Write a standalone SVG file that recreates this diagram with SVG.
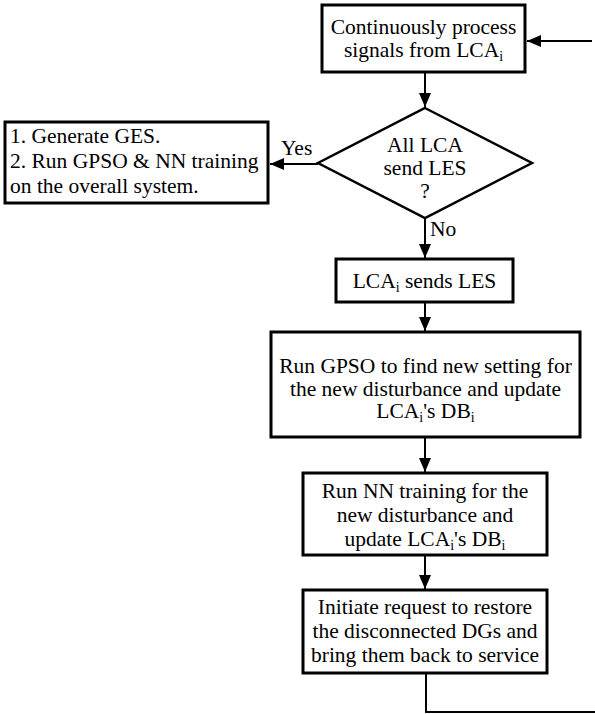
<svg xmlns="http://www.w3.org/2000/svg" width="595" height="714" viewBox="0 0 595 714">
<style>
.box{fill:#fff;stroke:#000;stroke-width:3}
text{font-family:'Liberation Serif','Times New Roman','DejaVu Serif',serif;font-size:21.5px;fill:#000}
.c{text-anchor:middle}
.ln{fill:none;stroke:#000;stroke-width:2}
.sub{font-size:14px}
</style>
<defs>
<marker id="ah" viewBox="0 0 14 12" refX="14" refY="6" markerWidth="14" markerHeight="12" markerUnits="userSpaceOnUse" orient="auto">
<path d="M0,0 L14,6 L0,12 Z" fill="#000"/>
</marker>
</defs>
<g id="connectors">
<line class="ln" x1="592" y1="41" x2="527" y2="41" marker-end="url(#ah)"/>
<line class="ln" x1="425" y1="72" x2="425" y2="107" marker-end="url(#ah)"/>
<line class="ln" x1="318" y1="164" x2="270" y2="164" marker-end="url(#ah)"/>
<line class="ln" x1="425" y1="218" x2="425" y2="258" marker-end="url(#ah)"/>
<line class="ln" x1="425" y1="302" x2="425" y2="331" marker-end="url(#ah)"/>
<line class="ln" x1="425" y1="437" x2="425" y2="472" marker-end="url(#ah)"/>
<line class="ln" x1="425" y1="555" x2="425" y2="589" marker-end="url(#ah)"/>
<polyline class="ln" points="426,673 426,712 595,712"/>
<text x="281" y="155">Yes</text>
<text x="430" y="236">No</text>
</g>
<g id="n1">
<rect class="box" x="322" y="5" width="203" height="67"/>
<text class="c" x="423.5" y="34">Continuously process</text>
<text class="c" x="423.5" y="57">signals from LCA<tspan class="sub" dy="4">i</tspan></text>
</g>
<g id="n2">
<polygon points="425,108 532,163 425,218 318,163" fill="#fff" stroke="#000" stroke-width="2.5"/>
<text class="c" x="425" y="152">All LCA</text>
<text class="c" x="425" y="175">send LES</text>
<text class="c" x="425" y="198">?</text>
</g>
<g id="n3">
<rect class="box" x="5" y="122" width="263" height="81"/>
<text x="10" y="143">1. Generate GES.</text>
<text x="10" y="168">2. Run GPSO &amp; NN training</text>
<text x="10" y="193">on the overall system.</text>
</g>
<g id="n4">
<rect class="box" x="336" y="259" width="177" height="43"/>
<text class="c" x="424.5" y="288">LCA<tspan class="sub" dy="4">i</tspan><tspan dy="-4"> sends LES</tspan></text>
</g>
<g id="n5">
<rect class="box" x="271" y="332" width="309" height="105"/>
<text class="c" x="425.5" y="373">Run GPSO to find new setting for</text>
<text class="c" x="425.5" y="396">the new disturbance and update</text>
<text class="c" x="425.5" y="418">LCA<tspan class="sub" dy="4">i</tspan><tspan dy="-4">'s DB</tspan><tspan class="sub" dy="4">i</tspan></text>
</g>
<g id="n6">
<rect class="box" x="303" y="473" width="244" height="82"/>
<text class="c" x="425" y="498">Run NN training for the</text>
<text class="c" x="425" y="522">new disturbance and</text>
<text class="c" x="425" y="546">update LCA<tspan class="sub" dy="4">i</tspan><tspan dy="-4">'s DB</tspan><tspan class="sub" dy="4">i</tspan></text>
</g>
<g id="n7">
<rect class="box" x="303" y="590" width="244" height="83"/>
<text class="c" x="425" y="614">Initiate request to restore</text>
<text class="c" x="425" y="638">the disconnected DGs and</text>
<text class="c" x="425" y="662">bring them back to service</text>
</g>
</svg>
